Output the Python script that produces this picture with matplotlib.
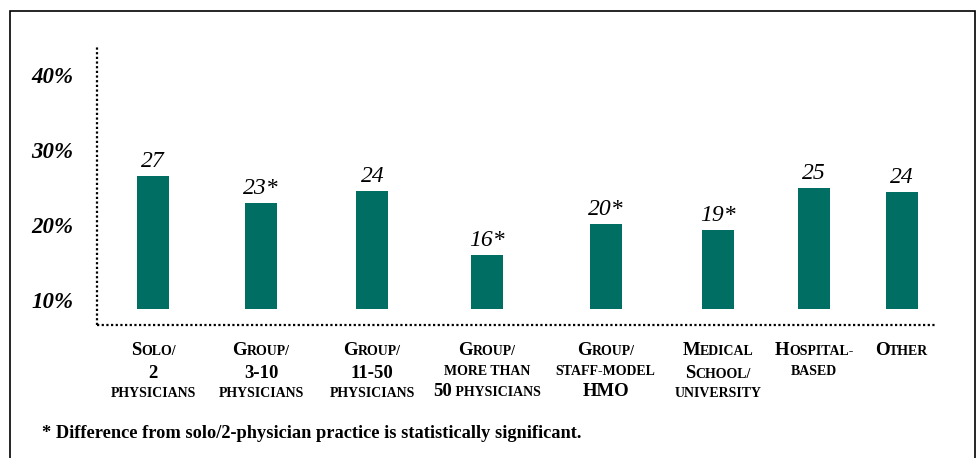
import matplotlib
matplotlib.use("Agg")
import matplotlib.pyplot as plt
from matplotlib.patches import Rectangle
from matplotlib.offsetbox import TextArea, HPacker, VPacker, AnnotationBbox

# practice settings (mixed case -> lowercase is drawn as small caps)
categories = ["Solo/\n2\nphysicians", "Group/\n3-10\nphysicians",
              "Group/\n11-50\nphysicians", "Group/\nmore than\n50 physicians",
              "Group/\nstaff-model\nHMO", "Medical\nSchool/\nuniversity",
              "Hospital-\nbased", "Other"]
# bar heights (%)
values = [26.5, 22.9, 24.5, 16.0, 20.1, 19.3, 24.9, 24.4]
value_labels = ["27", "23*", "24", "16*", "20*", "19*", "25", "24"]
yticks = [10, 20, 30, 40]
footnote = "* Difference from solo/2-physician practice is statistically significant."

# uneven spacing of the bars in the original layout
xpos = [0, 1, 2.03, 3.09, 4.19, 5.23, 6.12, 6.93]

teal = "#006e62"
serif = "Liberation Serif"

fig = plt.figure(figsize=(9.77, 4.58), dpi=100)
ax = fig.add_axes([97 / 977, 1 - 325 / 458, 838 / 977, 280 / 458])

base = 8.8
ax.bar(xpos, [v - base for v in values], bottom=base, width=0.296, color=teal)

for x, v, lab in zip(xpos, values, value_labels):
    ax.annotate(lab, (x, v), xytext=(0, 3), textcoords="offset points",
                ha="center", va="bottom", family=serif, style="italic",
                fontsize=17)

ax.set_xlim(-0.52, 7.24)
ax.set_ylim(6.7, 44)
ax.set_yticks(yticks)
ax.set_yticklabels([f"{t}%" for t in yticks], family=serif, style="italic",
                   weight="bold", fontsize=16.5)
ax.tick_params(axis="y", length=0, pad=17)
ax.set_xticks([])

for side in ["top", "right"]:
    ax.spines[side].set_visible(False)
for side in ["left", "bottom"]:
    ax.spines[side].set_linestyle((0, (1, 1.1)))
    ax.spines[side].set_linewidth(1.6)
    ax.spines[side].set_capstyle("butt")


def smallcaps_line(line, big=13.5, small=10):
    # split into runs of big / small characters
    runs = []
    prev_small = False
    for ch in line:
        if ch.isalnum():
            is_small = ch.islower()
        else:
            is_small = prev_small or ch == " "
        prev_small = is_small
        txt = ch.upper() if is_small else ch
        if runs and runs[-1][1] == is_small:
            runs[-1][0] += txt
        else:
            runs.append([txt, is_small])
    boxes = [TextArea(t, textprops=dict(family=serif, weight="bold",
                                        size=small if s else big))
             for t, s in runs]
    return HPacker(children=boxes, align="baseline", pad=0, sep=0)


for x, cat in zip(xpos, categories):
    lines = [smallcaps_line(l) for l in cat.split("\n")]
    box = VPacker(children=lines, align="center", pad=0, sep=4)
    ab = AnnotationBbox(box, (x, 0), xycoords=("data", "axes fraction"),
                        xybox=(0, -12.5), boxcoords="offset points",
                        box_alignment=(0.5, 1), frameon=False)
    ax.add_artist(ab)

fig.text(42 / 977, 1 - 433 / 458, footnote, family=serif, weight="bold",
         fontsize=13.2, va="center", ha="left")

# outer frame
fig.patches.append(Rectangle((10 / 977, -0.05), 965 / 977, 1 - 11 / 458 + 0.05,
                             transform=fig.transFigure, fill=False,
                             edgecolor="black", linewidth=1.2))

fig.savefig("out.png", dpi=100)
